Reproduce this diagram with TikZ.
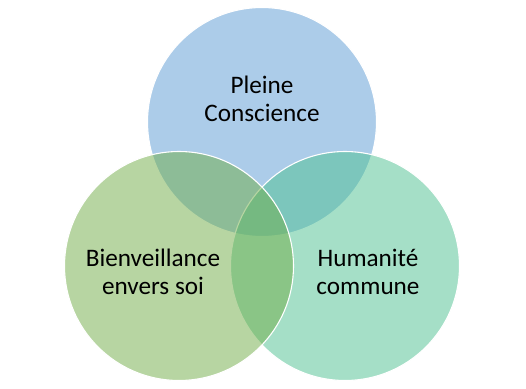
\documentclass[tikz,border=0pt]{standalone}
\usepackage{fontspec}
\setmainfont{Carlito}
\definecolor{cblue}{RGB}{91,155,213}
\definecolor{cgreen}{RGB}{112,173,71}
\definecolor{cteal}{RGB}{77,193,145}
\tikzset{
  venn/.style={draw=white, line width=1.1pt, fill opacity=0.5, draw opacity=1},
  lbl/.style={align=center, font=\fontsize{25.2}{28}\selectfont, text=black}
}
\begin{document}
\begin{tikzpicture}[x=1pt,y=1pt]
\useasboundingbox (0,0) rectangle (526,388);
\fill[white] (0,0) rectangle (526,388);
\path[venn, fill=cblue] (262,266) circle (114.5);
\path[venn, fill=cteal] (345,122) circle (114.5);
\path[venn, fill=cgreen] (179,122) circle (114.5);
\node[lbl] (pc) at (262,289) {Pleine\\Conscience};
\node[lbl] (be) at (153,116) {Bienveillance\\envers soi};
\node[lbl] (hc) at (368,116) {Humanité\\commune};
\end{tikzpicture}
\end{document}
